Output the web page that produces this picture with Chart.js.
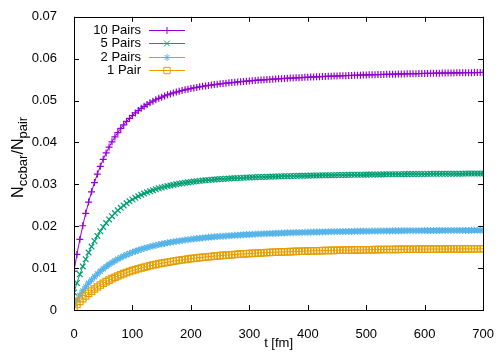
<!DOCTYPE html>
<html>
<head>
<meta charset="utf-8">
<script src="https://cdn.jsdelivr.net/npm/chart.js@4.4.1/dist/chart.umd.min.js"></script>
<style>
  html, body { margin: 0; padding: 0; background: #fff; }
</style>
</head>
<body>
<canvas id="ratioChart" width="503" height="352"></canvas>
<script>
// time grid [fm]
const times = [
  0, 5, 10, 15, 20, 25, 30, 35, 40, 45,
  50, 55, 60, 65, 70, 75, 80, 85, 90, 95,
  100, 105, 110, 115, 120, 125, 130, 135, 140, 145,
  150, 155, 160, 165, 170, 175, 180, 185, 190, 195,
  200, 205, 210, 215, 220, 225, 230, 235, 240, 245,
  250, 255, 260, 265, 270, 275, 280, 285, 290, 295,
  300, 305, 310, 315, 320, 325, 330, 335, 340, 345,
  350, 355, 360, 365, 370, 375, 380, 385, 390, 395,
  400, 405, 410, 415, 420, 425, 430, 435, 440, 445,
  450, 455, 460, 465, 470, 475, 480, 485, 490, 495,
  500, 505, 510, 515, 520, 525, 530, 535, 540, 545,
  550, 555, 560, 565, 570, 575, 580, 585, 590, 595,
  600, 605, 610, 615, 620, 625, 630, 635, 640, 645,
  650, 655, 660, 665, 670, 675, 680, 685, 690, 695, 700
];

const pairs10 = [
  0.0093, 0.01326, 0.01685, 0.02011, 0.02307, 0.02576, 0.02821, 0.03043, 0.03246, 0.0343,
  0.03597, 0.0375, 0.03889, 0.04016, 0.04132, 0.04237, 0.04334, 0.04422, 0.04502, 0.04576,
  0.04644, 0.04706, 0.04763, 0.04815, 0.04863, 0.04907, 0.04948, 0.04986, 0.0502, 0.05053,
  0.05082, 0.0511, 0.05136, 0.05159, 0.05182, 0.05202, 0.05222, 0.0524, 0.05257, 0.05273,
  0.05287, 0.05302, 0.05315, 0.05327, 0.05339, 0.0535, 0.05361, 0.05371, 0.05381, 0.0539,
  0.05399, 0.05407, 0.05415, 0.05423, 0.0543, 0.05437, 0.05444, 0.05451, 0.05457, 0.05463,
  0.05469, 0.05475, 0.0548, 0.05486, 0.05491, 0.05496, 0.05501, 0.05506, 0.0551, 0.05515,
  0.05519, 0.05523, 0.05528, 0.05532, 0.05536, 0.05539, 0.05543, 0.05547, 0.0555, 0.05554,
  0.05557, 0.05561, 0.05564, 0.05567, 0.0557, 0.05573, 0.05576, 0.05579, 0.05582, 0.05585,
  0.05587, 0.0559, 0.05593, 0.05595, 0.05598, 0.056, 0.05603, 0.05605, 0.05607, 0.05609,
  0.05612, 0.05614, 0.05616, 0.05618, 0.0562, 0.05622, 0.05624, 0.05626, 0.05628, 0.0563,
  0.05631, 0.05633, 0.05635, 0.05637, 0.05638, 0.0564, 0.05641, 0.05643, 0.05644, 0.05646,
  0.05647, 0.05649, 0.0565, 0.05652, 0.05653, 0.05654, 0.05656, 0.05657, 0.05658, 0.05659,
  0.05661, 0.05662, 0.05663, 0.05664, 0.05665, 0.05666, 0.05667, 0.05668, 0.05669, 0.0567, 0.05671
];

const pairs5 = [
  0.0042, 0.00645, 0.00851, 0.0104, 0.01212, 0.0137, 0.01515, 0.01647, 0.01769, 0.0188,
  0.01982, 0.02076, 0.02162, 0.0224, 0.02313, 0.02379, 0.0244, 0.02496, 0.02547, 0.02594,
  0.02638, 0.02678, 0.02715, 0.02749, 0.0278, 0.02809, 0.02836, 0.0286, 0.02883, 0.02904,
  0.02924, 0.02942, 0.02959, 0.02974, 0.02989, 0.03002, 0.03015, 0.03026, 0.03037, 0.03047,
  0.03057, 0.03065, 0.03074, 0.03082, 0.03089, 0.03096, 0.03102, 0.03108, 0.03114, 0.03119,
  0.03125, 0.0313, 0.03134, 0.03138, 0.03143, 0.03147, 0.0315, 0.03154, 0.03157, 0.03161,
  0.03164, 0.03167, 0.0317, 0.03173, 0.03175, 0.03178, 0.0318, 0.03183, 0.03185, 0.03187,
  0.03189, 0.03192, 0.03194, 0.03195, 0.03197, 0.03199, 0.03201, 0.03203, 0.03204, 0.03206,
  0.03208, 0.03209, 0.03211, 0.03212, 0.03214, 0.03215, 0.03216, 0.03218, 0.03219, 0.0322,
  0.03221, 0.03223, 0.03224, 0.03225, 0.03226, 0.03227, 0.03228, 0.03229, 0.0323, 0.03231,
  0.03232, 0.03233, 0.03234, 0.03235, 0.03236, 0.03237, 0.03238, 0.03239, 0.0324, 0.0324,
  0.03241, 0.03242, 0.03243, 0.03244, 0.03244, 0.03245, 0.03246, 0.03246, 0.03247, 0.03248,
  0.03248, 0.03249, 0.0325, 0.0325, 0.03251, 0.03251, 0.03252, 0.03252, 0.03253, 0.03253,
  0.03254, 0.03254, 0.03255, 0.03255, 0.03256, 0.03256, 0.03257, 0.03257, 0.03258, 0.03258, 0.03259
];

const pairs2 = [
  0.0012, 0.00242, 0.00355, 0.00458, 0.00552, 0.0064, 0.0072, 0.00794, 0.00862, 0.00925,
  0.00983, 0.01037, 0.01087, 0.01133, 0.01176, 0.01215, 0.01252, 0.01287, 0.01319, 0.01349,
  0.01377, 0.01403, 0.01427, 0.0145, 0.01472, 0.01492, 0.01511, 0.01528, 0.01545, 0.01561,
  0.01576, 0.0159, 0.01603, 0.01616, 0.01628, 0.01639, 0.0165, 0.01661, 0.0167, 0.0168,
  0.01688, 0.01697, 0.01705, 0.01713, 0.0172, 0.01727, 0.01734, 0.0174, 0.01746, 0.01752,
  0.01758, 0.01763, 0.01768, 0.01773, 0.01778, 0.01783, 0.01787, 0.01791, 0.01796, 0.018,
  0.01803, 0.01807, 0.0181, 0.01814, 0.01817, 0.0182, 0.01823, 0.01826, 0.01829, 0.01832,
  0.01834, 0.01837, 0.01839, 0.01842, 0.01844, 0.01846, 0.01848, 0.0185, 0.01852, 0.01854,
  0.01856, 0.01858, 0.0186, 0.01861, 0.01863, 0.01865, 0.01866, 0.01867, 0.01869, 0.0187,
  0.01872, 0.01873, 0.01874, 0.01875, 0.01876, 0.01877, 0.01879, 0.0188, 0.01881, 0.01882,
  0.01883, 0.01883, 0.01884, 0.01885, 0.01886, 0.01887, 0.01887, 0.01888, 0.01889, 0.0189,
  0.0189, 0.01891, 0.01892, 0.01892, 0.01893, 0.01893, 0.01894, 0.01894, 0.01895, 0.01895,
  0.01896, 0.01896, 0.01897, 0.01897, 0.01898, 0.01898, 0.01898, 0.01899, 0.01899, 0.019,
  0.019, 0.019, 0.019, 0.01901, 0.01901, 0.01901, 0.01902, 0.01902, 0.01902, 0.01902, 0.01903
];

const pairs1 = [
  0.0005, 0.0013, 0.00204, 0.00272, 0.00336, 0.00395, 0.0045, 0.00502, 0.0055, 0.00595,
  0.00637, 0.00677, 0.00714, 0.00749, 0.00781, 0.00812, 0.00841, 0.00868, 0.00894, 0.00918,
  0.00941, 0.00963, 0.00984, 0.01003, 0.01022, 0.0104, 0.01056, 0.01073, 0.01088, 0.01102,
  0.01116, 0.01129, 0.01142, 0.01154, 0.01166, 0.01177, 0.01187, 0.01198, 0.01207, 0.01217,
  0.01226, 0.01234, 0.01243, 0.01251, 0.01258, 0.01265, 0.01273, 0.01279, 0.01286, 0.01292,
  0.01298, 0.01304, 0.0131, 0.01315, 0.0132, 0.01325, 0.0133, 0.01335, 0.0134, 0.01344,
  0.01348, 0.01352, 0.01356, 0.0136, 0.01364, 0.01367, 0.01371, 0.01374, 0.01377, 0.0138,
  0.01383, 0.01386, 0.01389, 0.01391, 0.01394, 0.01397, 0.01399, 0.01401, 0.01404, 0.01406,
  0.01408, 0.0141, 0.01412, 0.01414, 0.01416, 0.01418, 0.01419, 0.01421, 0.01423, 0.01424,
  0.01426, 0.01427, 0.01429, 0.0143, 0.01431, 0.01432, 0.01434, 0.01435, 0.01436, 0.01437,
  0.01438, 0.01439, 0.0144, 0.01441, 0.01442, 0.01443, 0.01444, 0.01445, 0.01446, 0.01446,
  0.01447, 0.01448, 0.01449, 0.01449, 0.0145, 0.01451, 0.01451, 0.01452, 0.01453, 0.01453,
  0.01454, 0.01454, 0.01455, 0.01455, 0.01456, 0.01456, 0.01457, 0.01457, 0.01457, 0.01458,
  0.01458, 0.01459, 0.01459, 0.01459, 0.0146, 0.0146, 0.0146, 0.01461, 0.01461, 0.01461, 0.01462
];

const seriesNames = ["10 Pairs", "5 Pairs", "2 Pairs", "1 Pair"];
const xTickLabels = ["0", "100", "200", "300", "400", "500", "600", "700"];
const yTickLabels = ["0", "0.01", "0.02", "0.03", "0.04", "0.05", "0.06", "0.07"];

const FONT = '"Liberation Sans", Arial, Helvetica, sans-serif';
Chart.defaults.font.family = FONT;
Chart.defaults.font.size = 13;
Chart.defaults.color = "#000";

const toPoints = (vals) => vals.map((v, i) => ({ x: times[i], y: v }));

function makeSet(label, vals, color, style, radius, order) {
  return {
    label: label,
    data: toPoints(vals),
    borderColor: color,
    backgroundColor: color,
    borderWidth: 1,
    pointStyle: style,
    pointRadius: radius,
    pointHoverRadius: radius,
    pointBorderWidth: 1.2,
    pointBorderColor: color,
    pointBackgroundColor: "rgba(0,0,0,0)",
    tension: 0,
    order: order,
  };
}

// gnuplot-like border with inward ticks on all four sides
const framePlugin = {
  id: "frame",
  afterDatasetsDraw(chart) {
    const { ctx, chartArea: a, scales } = chart;
    const tick = 5;
    ctx.save();
    ctx.strokeStyle = "#000";
    ctx.lineWidth = 1;
    ctx.beginPath();
    scales.x.ticks.forEach((t) => {
      const px = Math.round(scales.x.getPixelForValue(t.value)) + 0.5;
      ctx.moveTo(px, a.bottom);
      ctx.lineTo(px, a.bottom - tick);
      ctx.moveTo(px, a.top);
      ctx.lineTo(px, a.top + tick);
    });
    scales.y.ticks.forEach((t) => {
      const py = Math.round(scales.y.getPixelForValue(t.value)) + 0.5;
      ctx.moveTo(a.left, py);
      ctx.lineTo(a.left + tick, py);
      ctx.moveTo(a.right, py);
      ctx.lineTo(a.right - tick, py);
    });
    ctx.stroke();
    ctx.strokeRect(Math.round(a.left) + 0.5, Math.round(a.top) + 0.5,
      Math.round(a.right - a.left), Math.round(a.bottom - a.top));
    ctx.restore();
  },
};

function drawMarker(ctx, style, x, y, r) {
  if (Chart.helpers && Chart.helpers.drawPoint) {
    Chart.helpers.drawPoint(ctx, { pointStyle: style, radius: r, borderWidth: 1, rotation: 0 }, x, y);
    return;
  }
  ctx.beginPath();
  if (style === "rect") {
    const s = r * Math.SQRT1_2;
    ctx.rect(x - s, y - s, 2 * s, 2 * s);
  } else {
    if (style !== "crossRot") { ctx.moveTo(x - r, y); ctx.lineTo(x + r, y); ctx.moveTo(x, y - r); ctx.lineTo(x, y + r); }
    if (style !== "cross") { const d = r * Math.SQRT1_2; ctx.moveTo(x - d, y - d); ctx.lineTo(x + d, y + d); ctx.moveTo(x - d, y + d); ctx.lineTo(x + d, y - d); }
  }
  ctx.stroke();
}

// key in the upper left: right-aligned text, then a sample line with its marker
const keyPlugin = {
  id: "key",
  afterDraw(chart) {
    const { ctx, chartArea: a } = chart;
    const textRight = a.left + 67;
    const lineFrom = a.left + 75;
    const lineTo = a.left + 111;
    ctx.save();
    ctx.font = "13px " + FONT;
    ctx.textAlign = "right";
    ctx.textBaseline = "middle";
    chart.data.datasets.forEach((ds, i) => {
      const y = a.top + 13 + i * 13.5;
      ctx.fillStyle = "#000";
      ctx.fillText(ds.label, textRight, y + 0.5);
      ctx.strokeStyle = ds.borderColor;
      ctx.lineWidth = 1;
      ctx.beginPath();
      ctx.moveTo(lineFrom, Math.round(y) + 0.5);
      ctx.lineTo(lineTo, Math.round(y) + 0.5);
      ctx.stroke();
      ctx.fillStyle = "rgba(0,0,0,0)";
      drawMarker(ctx, ds.pointStyle, (lineFrom + lineTo) / 2, Math.round(y) + 0.5, ds.pointRadius);
    });
    ctx.restore();
  },
};

// rotated y title with subscripts: N_ccbar / N_pair
const yTitlePlugin = {
  id: "ytitle",
  afterDraw(chart) {
    const { ctx, chartArea: a } = chart;
    const parts = [["N", 16, 0], ["ccbar", 13, 4], ["/N", 16, 0], ["pair", 13, 4]];
    ctx.save();
    ctx.translate(18, (a.top + a.bottom) / 2 - 6);
    ctx.rotate(-Math.PI / 2);
    ctx.fillStyle = "#000";
    ctx.textBaseline = "alphabetic";
    ctx.textAlign = "left";
    let total = 0;
    parts.forEach((p) => { ctx.font = p[1] + "px " + FONT; total += ctx.measureText(p[0]).width; });
    let x = -total / 2;
    parts.forEach((p) => {
      ctx.font = p[1] + "px " + FONT;
      ctx.fillText(p[0], x, 5 + p[2]);
      x += ctx.measureText(p[0]).width;
    });
    ctx.restore();
  },
};

new Chart(document.getElementById("ratioChart"), {
  type: "line",
  data: {
    datasets: [
      makeSet(seriesNames[0], pairs10, "#9400D3", "cross", 3.5, 4),
      makeSet(seriesNames[1], pairs5, "#009E73", "crossRot", 4, 3),
      makeSet(seriesNames[2], pairs2, "#56B4E9", "star", 3.5, 2),
      makeSet(seriesNames[3], pairs1, "#E69F00", "rect", 4.5, 1),
    ],
  },
  options: {
    responsive: false,
    devicePixelRatio: 1,
    animation: false,
    layout: { padding: { left: 0, right: 15, top: 11, bottom: 0 } },
    plugins: {
      legend: { display: false },
      tooltip: { enabled: false },
    },
    scales: {
      x: {
        type: "linear",
        min: 0,
        max: 700,
        grid: { display: false },
        border: { display: false },
        ticks: {
          stepSize: 100,
          padding: 9,
          maxRotation: 0,
          autoSkip: false,
          callback: (v, i) => xTickLabels[i],
        },
        title: { display: true, text: "t [fm]", padding: { top: 0, bottom: 1 } },
        afterFit: (s) => { s.height = 42; },
      },
      y: {
        min: 0,
        max: 0.07,
        grid: { display: false },
        border: { display: false },
        ticks: {
          stepSize: 0.01,
          padding: 9,
          callback: (v, i) => yTickLabels[i],
        },
        afterFit: (s) => { s.width = 74; },
      },
    },
  },
  plugins: [framePlugin, keyPlugin, yTitlePlugin],
});
</script>
</body>
</html>
